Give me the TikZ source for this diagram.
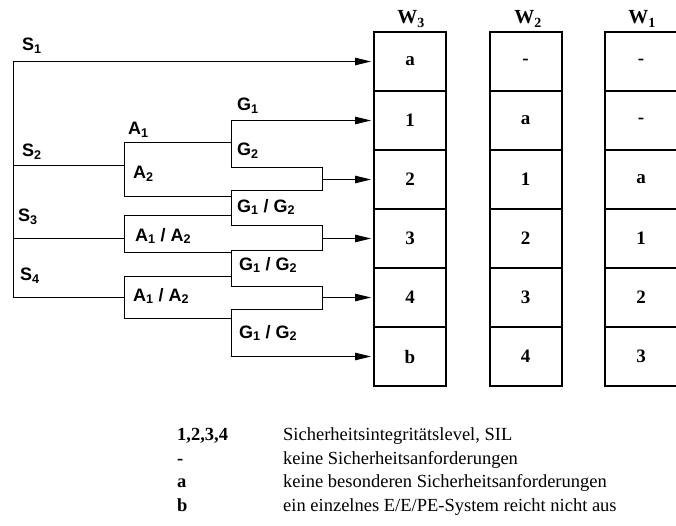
\documentclass[tikz,border=0pt]{standalone}
\usepackage{fontspec}
\setmainfont{Liberation Serif}
\setsansfont{Liberation Sans}
\usetikzlibrary{arrows.meta}

\tikzset{
  wire/.style={line width=1pt},
  feed/.style={wire, -{Triangle[length=16pt,width=7.5pt]}, shorten >=2pt},
  lbl/.style={anchor=west, inner sep=0pt, font=\fontsize{18}{20}\selectfont\sffamily\bfseries},
  cell/.style={draw, line width=2pt, minimum width=72pt, minimum height=59pt, inner sep=0pt, font=\fontsize{19}{21}\selectfont\bfseries},
  head/.style={inner sep=0pt, font=\fontsize{20}{22}\selectfont\bfseries},
  key/.style={anchor=base west, inner sep=0pt, font=\fontsize{18.5}{22}\selectfont\bfseries},
  desc/.style={anchor=base west, inner sep=0pt, font=\fontsize{18.5}{22}\selectfont},
}

\begin{document}
\begin{tikzpicture}[x=1pt, y=-1pt]

        \useasboundingbox (0,0) rectangle (676,526);

        %Result columns
        \foreach \v [count=\r] in {a,1,2,3,4,b}
          \node [cell] (w3r\r) at (410,{2.5+59*\r}) {\v};
        \foreach \v [count=\r] in {-,a,1,2,3,4}
          \node [cell] (w2r\r) at (525.5,{2.5+59*\r}) {\v};
        \foreach \v [count=\r] in {-,-,a,1,2,3}
          \node [cell] (w1r\r) at (641,{2.5+59*\r}) {\v};

        \node [head] (w3) at (411,19) {W\textsubscript{3}};
        \node [head] (w2) at (528,19) {W\textsubscript{2}};
        \node [head] (w1) at (642,19) {W\textsubscript{1}};

        %S spine
        \coordinate (s1) at (13,61.5);
        \coordinate (s2) at (13,166);
        \coordinate (s3) at (13,238.5);
        \coordinate (s4) at (13,297.5);
        \draw [wire]  (s1) -- (s4);
        \draw [feed]  (s1) -- (w3r1.west);

        %A brackets
        \coordinate (a2t) at (124,143);
        \coordinate (a2b) at (124,197);
        \coordinate (a3t) at (124,216);
        \coordinate (a3b) at (124,253);
        \coordinate (a4t) at (124,276);
        \coordinate (a4b) at (124,318);
        \draw [wire]  (a2t) -- (a2b);
        \draw [wire]  (a3t) -- (a3b);
        \draw [wire]  (a4t) -- (a4b);
        \draw [wire]  (s2) -- (s2 -| a2t);
        \draw [wire]  (s3) -- (s3 -| a3t);
        \draw [wire]  (s4) -- (s4 -| a4t);

        %G brackets and merges
        \coordinate (g1t) at (231,120.5);
        \coordinate (g1b) at (231,168);
        \coordinate (m2t) at (322,168);
        \coordinate (m2b) at (322,191);
        \coordinate (g2t) at (231,191);
        \coordinate (g2b) at (231,226);
        \coordinate (m3t) at (322,226);
        \coordinate (m3b) at (322,251);
        \coordinate (g3t) at (231,251);
        \coordinate (g3b) at (231,286);
        \coordinate (m4t) at (322,286);
        \coordinate (m4b) at (322,309);
        \coordinate (g4t) at (231,309);
        \coordinate (g4b) at (231,356.5);
        \draw [wire]  (g1t) -- (g1b) -- (m2t) -- (m2b) -- (g2t) -- (g2b) -- (m3t) -- (m3b)
                      -- (g3t) -- (g3b) -- (m4t) -- (m4b) -- (g4t) -- (g4b);

        \draw [wire]  (a2t) -- (a2t -| g1t);
        \draw [wire]  (a2b) -- (a2b -| g2t);
        \draw [wire]  (a3t) -- (a3t -| g2t);
        \draw [wire]  (a3b) -- (a3b -| g3t);
        \draw [wire]  (a4t) -- (a4t -| g3t);
        \draw [wire]  (a4b) -- (a4b -| g4t);

        %Arrows into W3
        \draw [feed]  (g1t) -- (w3r2.west);
        \draw [feed]  (m2t |- w3r3) -- (w3r3.west);
        \draw [feed]  (m3t |- w3r4) -- (w3r4.west);
        \draw [feed]  (m4t |- w3r5) -- (w3r5.west);
        \draw [feed]  (g4b) -- (w3r6.west);

        %Branch labels
        \node [lbl] (ls1) at (22,46)   {S\textsubscript{1}};
        \node [lbl] (ls2) at (22,152)  {S\textsubscript{2}};
        \node [lbl] (ls3) at (18,217)  {S\textsubscript{3}};
        \node [lbl] (ls4) at (20,276)  {S\textsubscript{4}};
        \node [lbl] (la1) at (128,130) {A\textsubscript{1}};
        \node [lbl] (la2) at (133,174) {A\textsubscript{2}};
        \node [lbl] (la3) at (135,236) {A\textsubscript{1} / A\textsubscript{2}};
        \node [lbl] (la4) at (133,296) {A\textsubscript{1} / A\textsubscript{2}};
        \node [lbl] (lg1) at (237,106) {G\textsubscript{1}};
        \node [lbl] (lg2) at (237,151) {G\textsubscript{2}};
        \node [lbl] (lg3) at (237,207) {G\textsubscript{1} / G\textsubscript{2}};
        \node [lbl] (lg4) at (239,265) {G\textsubscript{1} / G\textsubscript{2}};
        \node [lbl] (lg5) at (239,333) {G\textsubscript{1} / G\textsubscript{2}};

        %Legend
        \node [key]  (k1) at (177,440) {1,2,3,4};
        \node [key]  (k2) at (177,464) {-};
        \node [key]  (k3) at (177,487) {a};
        \node [key]  (k4) at (177,511) {b};
        \node [desc] (d1) at (283,440) {Sicherheitsintegritätslevel, SIL};
        \node [desc] (d2) at (283,464) {keine Sicherheitsanforderungen};
        \node [desc] (d3) at (283,487) {keine besonderen Sicherheitsanforderungen};
        \node [desc] (d4) at (283,511) {ein einzelnes E/E/PE-System reicht nicht aus};

\end{tikzpicture}
\end{document}
